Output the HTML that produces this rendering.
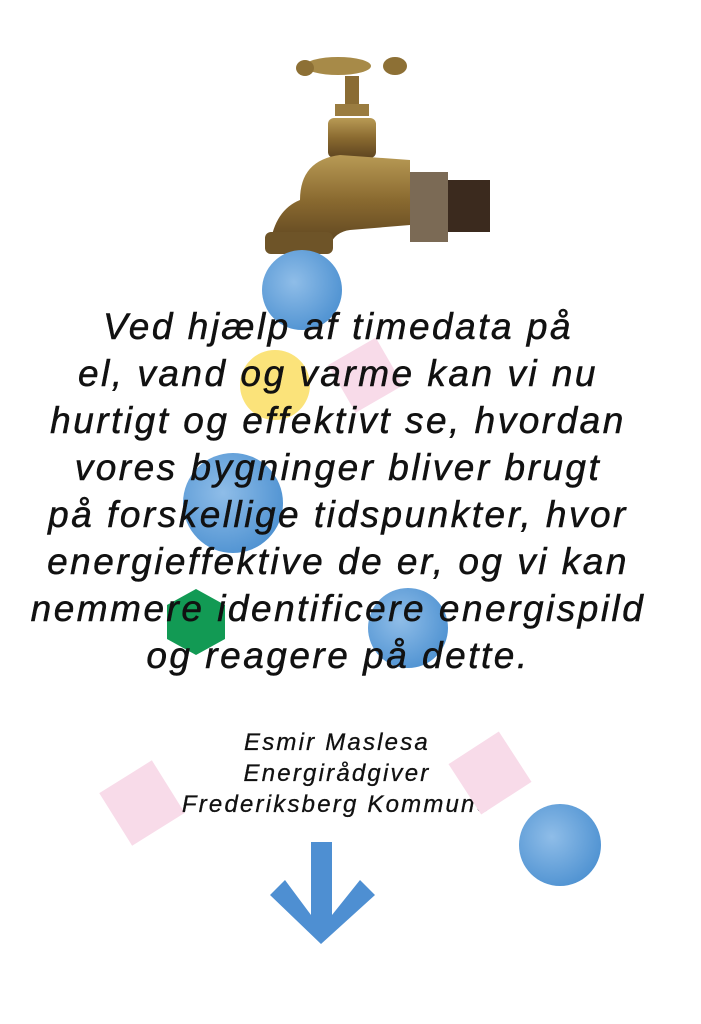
<!DOCTYPE html>
<html><head><meta charset="utf-8"><style>
html,body{margin:0;padding:0;background:#fff;}
body{width:701px;height:1024px;position:relative;overflow:hidden;font-family:"Liberation Sans",sans-serif;}
svg{position:absolute;left:0;top:0;}
.q{position:absolute;left:0;width:676px;top:303px;text-align:center;font-style:italic;font-size:37px;line-height:47px;color:#111;letter-spacing:2.5px;-webkit-text-stroke:0.5px #111;}
.a{position:absolute;left:0;width:674px;top:727px;text-align:center;font-style:italic;font-size:24px;line-height:31px;color:#111;letter-spacing:2.2px;-webkit-text-stroke:0.3px #111;}
</style></head><body>
<svg width="701" height="1024">
<defs>
<radialGradient id="sky" cx="40%" cy="40%" r="70%"><stop offset="0" stop-color="#8fbde8"/><stop offset="1" stop-color="#4a8fd0"/></radialGradient>
<linearGradient id="brass" x1="0" y1="0" x2="0" y2="1"><stop offset="0" stop-color="#b89a55"/><stop offset="0.5" stop-color="#8a6a30"/><stop offset="1" stop-color="#5e4520"/></linearGradient>
</defs>
<ellipse cx="338" cy="66" rx="33" ry="9" fill="#a78a48"/>
<ellipse cx="395" cy="66" rx="12" ry="9" fill="#8d7035"/>
<ellipse cx="305" cy="68" rx="9" ry="8" fill="#8d7035"/>
<rect x="345" y="76" width="14" height="30" fill="#8a6c34"/>
<rect x="335" y="104" width="34" height="12" fill="#9a7c40"/>
<rect x="328" y="118" width="48" height="40" rx="6" fill="url(#brass)"/>
<path d="M300 200 Q300 160 340 155 L410 160 L410 225 L350 230 Q335 232 330 245 L270 245 Q275 210 300 200Z" fill="url(#brass)"/>
<rect x="410" y="172" width="38" height="70" fill="#7b6a55"/>
<rect x="448" y="180" width="42" height="52" fill="#3b2a1e"/>
<rect x="265" y="232" width="68" height="22" rx="6" fill="#6e5428"/>
<circle cx="302" cy="290" r="40" fill="url(#sky)"/>
<circle cx="275" cy="385" r="35" fill="#fbe37a"/>
<rect x="338" y="348" width="55" height="55" fill="#f8dbe9" transform="rotate(-30 365 375)"/>
<circle cx="233" cy="503" r="50" fill="url(#sky)"/>
<polygon points="196,589 225,605 225,639 196,655 167,639 167,605" fill="#129a54"/>
<circle cx="408" cy="628" r="40" fill="url(#sky)"/>
<rect x="111" y="772" width="62" height="62" fill="#f8dbe9" transform="rotate(-32 142 803)"/>
<circle cx="560" cy="845" r="41" fill="url(#sky)"/>
<path d="M311 842 H332 V915 L360 880 L375 895 L321 944 L270 895 L285 880 L311 915Z" fill="#4e8fd2"/>
</svg>
<div class="q">Ved hjælp af timedata på<br>el, vand og varme kan vi nu<br>hurtigt og effektivt se, hvordan<br>vores bygninger bliver brugt<br>på forskellige tidspunkter, hvor<br>energieffektive de er, og vi kan<br>nemmere identificere energispild<br>og reagere på dette.</div>
<div class="a">Esmir Maslesa<br>Energirådgiver<br>Frederiksberg Kommune</div>
<svg width="701" height="1024"><rect x="460" y="743" width="60" height="60" fill="#f8dbe9" transform="rotate(-33 490 773)"/></svg>
</body></html>
